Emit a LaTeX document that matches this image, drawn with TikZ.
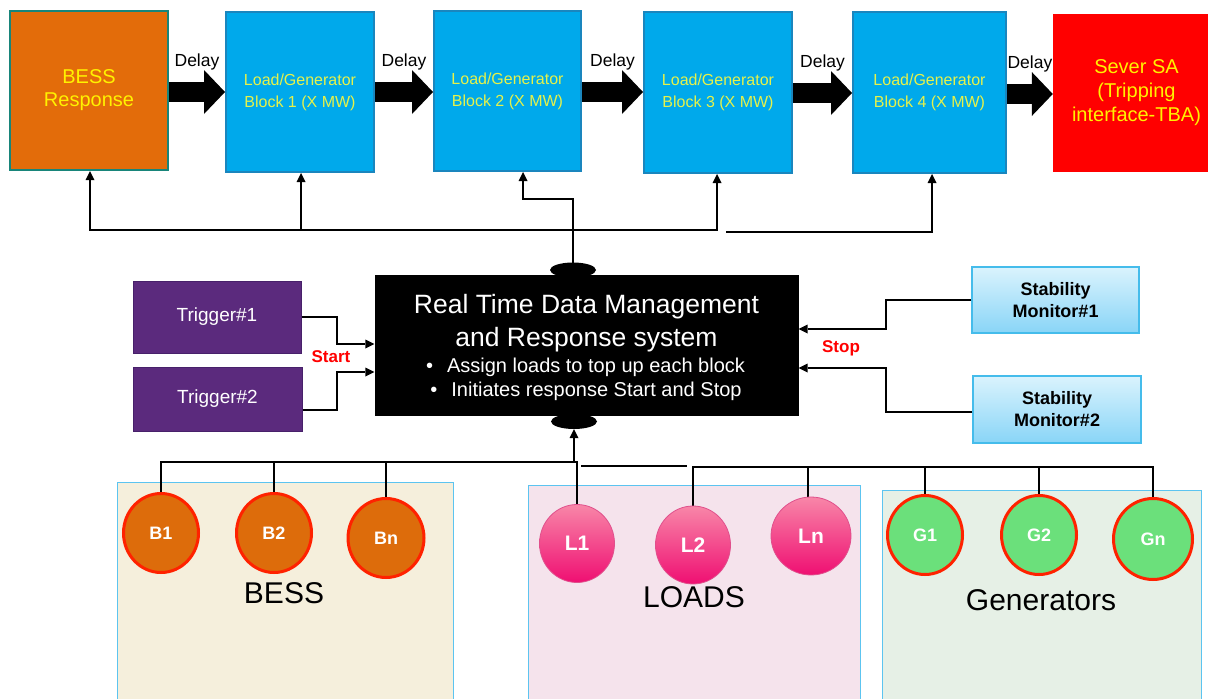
\documentclass[tikz,border=0pt]{standalone}
\usepackage{fontspec}
\setmainfont{Liberation Sans}
\usetikzlibrary{arrows.meta,shapes.geometric}
\definecolor{bessor}{HTML}{E36C0A}
\definecolor{bessedge}{HTML}{18857A}
\definecolor{blkfill}{HTML}{00A9EB}
\definecolor{blkedge}{HTML}{1A86BE}
\definecolor{blktext}{HTML}{E6F24A}
\definecolor{yel}{HTML}{FFF200}
\definecolor{trig}{HTML}{5B2A7D}
\definecolor{trigedge}{HTML}{47206A}
\definecolor{stabtop}{HTML}{DAF3FD}
\definecolor{stabbot}{HTML}{89D5F7}
\definecolor{stabedge}{HTML}{45BCEB}
\definecolor{bgB}{HTML}{F5EFDC}
\definecolor{bgL}{HTML}{F5E3EC}
\definecolor{bgG}{HTML}{E6F0E6}
\definecolor{grpedge}{HTML}{5CC4F0}
\definecolor{bcirc}{HTML}{DD6C0B}
\definecolor{redring}{HTML}{FF2200}
\definecolor{gcirc}{HTML}{6BE07B}
\definecolor{ltop}{HTML}{F886A8}
\definecolor{lbot}{HTML}{EF0F72}
\definecolor{ledge}{HTML}{E0508C}
\newcommand\fsz[2]{\fontsize{#1}{#2}\selectfont}
\begin{document}
\begin{tikzpicture}[x=1pt,y=-1pt,
  box/.style={inner sep=0pt, align=center},
  topblock/.style={box, draw=blkedge, line width=2pt, fill=blkfill, text=blktext, font=\fsz{16}{22}, minimum width=148pt, minimum height=160pt},
  bigarrow/.style={line width=20pt, -{Triangle[length=21pt,width=44pt,line width=0pt]}},
  delay/.style={midway, yshift=30pt, font=\fsz{17.5}{20}},
  wire/.style={line width=2.6pt},
  arr/.style={wire, -{Triangle[length=9pt,width=9pt,line width=0pt]}},
  trigger/.style={box, fill=trig, draw=trigedge, line width=1pt, text=white, font=\fsz{19}{22}, minimum width=168pt},
  stab/.style={box, top color=stabtop, bottom color=stabbot, draw=stabedge, line width=1.5pt, font=\bfseries\fsz{18}{22}, minimum width=167pt, minimum height=66pt},
  group/.style={draw=grpedge, line width=1pt, anchor=north west, inner sep=0pt},
  grplabel/.style={font=\fsz{30}{34}},
  bc/.style={ellipse, inner sep=0pt, fill=bcirc, draw=redring, line width=3pt, minimum width=75pt, minimum height=79pt, text=white, font=\bfseries\fsz{18}{20}},
  gc/.style={bc, fill=gcirc},
  lc/.style={ellipse, inner sep=0pt, top color=ltop, bottom color=lbot, draw=ledge, line width=0.8pt, minimum width=75pt, minimum height=78pt, text=white, font=\bfseries\fsz{21}{22}},
  sig/.style={text=red, font=\bfseries\fsz{17}{20}},
  lump/.style={ellipse, fill=black, inner sep=0pt, minimum width=46pt, minimum height=15pt},
  rttext/.style={text=white, align=center}
]
\useasboundingbox (0,0) rectangle (1208,699);
\fill[white] (0,0) rectangle (1208,699);

% top row
\node[box, draw=bessedge, line width=2pt, fill=bessor, text=yel, font=\fsz{20}{23}, minimum width=158pt, minimum height=159pt] (bess) at (89,90.5) {BESS\\Response};
\node[topblock] (b1) at (300,92) {Load/Generator\\Block 1 (X MW)};
\node[topblock, minimum width=147pt] (b2) at (507.5,91) {Load/Generator\\Block 2 (X MW)};
\node[topblock, minimum height=161pt] (b3) at (718,92.5) {Load/Generator\\Block 3 (X MW)};
\node[topblock, minimum width=153pt, minimum height=161pt] (b4) at (929.5,92.5) {Load/Generator\\Block 4 (X MW)};
\node[box, fill=red, text=yel, font=\fsz{20}{24}, minimum width=167pt, minimum height=158pt] (sever) at (1136.5,93) {Sever SA\\(Tripping\\interface-TBA)};

\draw[bigarrow] (bess.east |- 0,92) -- node[delay]{Delay} (b1.west |- 0,92);
\draw[bigarrow] (b1.east |- 0,92) -- node[delay]{Delay} (b2.west |- 0,92);
\draw[bigarrow] (b2.east |- 0,92) -- node[delay]{Delay} (b3.west |- 0,92);
\draw[bigarrow] (b3.east |- 0,93) -- node[delay]{Delay} (b4.west |- 0,93);
\draw[bigarrow] (b4.east |- 0,94) -- node[delay]{Delay} (sever.west |- 0,94);

% central box
\node[box, fill=black, minimum width=424pt, minimum height=141pt] (rt) at (586.5,345.5) {};
\node[lump] (etop) at (573,270) {};
\node[lump] (ebot) at (574,421.5) {};
\node[rttext, font=\fsz{26.5}{33}] (rtt) at (586.5,323.5) {Real Time Data Management\\and Response system};
\node[rttext, font=\fsz{20}{24}] (rtb1) at (585.5,367) {\textbullet\hspace{14pt}Assign loads to top up each block};
\node[rttext, font=\fsz{20}{24}] (rtb2) at (586,391) {\textbullet\hspace{14pt}Initiates response Start and Stop};

% top wiring
\draw[arr] (301,230) -- (90,230) -- (90,230 |- bess.south);
\draw[arr] (301,230) -- (717,230) -- (717,230 |- b3.south);
\draw[arr] (301,230) -- (301,230 |- b1.south);
\draw[arr] (726,232) -- (932,232) -- (932,232 |- b4.south);
\draw[arr] (etop.center) -- (573,199) -- (523,199) -- (523,199 |- b2.south);

% triggers
\node[trigger, minimum height=72pt] (t1) at (217,317) {Trigger\#1};
\node[trigger, minimum height=64pt, minimum width=169pt] (t2) at (217.5,399) {Trigger\#2};
\draw[arr] (t1.east) -- (337,317) -- (337,344) -- (rt.west |- 0,344);
\draw[arr] (t2.east |- 0,410) -- (337,410) -- (337,372) -- (rt.west |- 0,372);
\node[sig] (start) at (331,357) {Start};

% stability monitors
\node[stab] (m1) at (1055.5,300) {Stability\\Monitor\#1};
\node[stab, minimum width=168pt, minimum height=67pt] (m2) at (1057,409.5) {Stability\\Monitor\#2};
\draw[arr] (m1.west) -- (886,300) -- (886,329) -- (rt.east |- 0,329);
\draw[arr] (m2.west |- 0,412) -- (886,412) -- (886,368) -- (rt.east |- 0,368);
\node[sig] (stop) at (841,348) {Stop};

% groups
\node[group, fill=bgB, minimum width=336pt, minimum height=222pt] (gB) at (117,482) {};
\node[group, fill=bgL, minimum width=332pt, minimum height=220pt] (gL) at (528,485) {};
\node[group, fill=bgG, minimum width=319pt, minimum height=215pt] (gG) at (882,490) {};
\node[grplabel] (lB) at (284,593) {BESS};
\node[grplabel] (lL) at (694,597) {LOADS};
\node[grplabel] (lG) at (1041,600) {Generators};

% circle positions and bottom wiring
\path (161,533) coordinate (pB1) (274,533) coordinate (pB2) (386,538) coordinate (pBn)
      (577,543.5) coordinate (pL1) (693,545) coordinate (pL2) (811,536) coordinate (pLn)
      (925,535) coordinate (pG1) (1039,535) coordinate (pG2) (1153,539) coordinate (pGn);
\draw[arr] (574,462) -- (ebot.south);
\draw[wire] (pL1) -- (577,462) -- (161,462) -- (pB1);
\draw[wire] (274,462) -- (pB2);
\draw[wire] (386,462) -- (pBn);
\draw[wire] (581,466) -- (687,466);
\draw[wire] (pL2) -- (693,467) -- (1153,467) -- (pGn);
\draw[wire] (808,467) -- (808,520);
\draw[wire] (925,467) -- (pG1);
\draw[wire] (1039,467) -- (pG2);

% circles
\node[bc] (cB1) at (pB1) {B1};
\node[bc] (cB2) at (pB2) {B2};
\node[bc, minimum width=76pt] (cBn) at (pBn) {Bn};
\node[lc] (cL1) at (pL1) {L1};
\node[lc] (cL2) at (pL2) {L2};
\node[lc, minimum width=80pt] (cLn) at (pLn) {Ln};
\node[gc] (cG1) at (pG1) {G1};
\node[gc] (cG2) at (pG2) {G2};
\node[gc, minimum width=79pt, minimum height=81pt] (cGn) at (pGn) {Gn};
\end{tikzpicture}
\end{document}
